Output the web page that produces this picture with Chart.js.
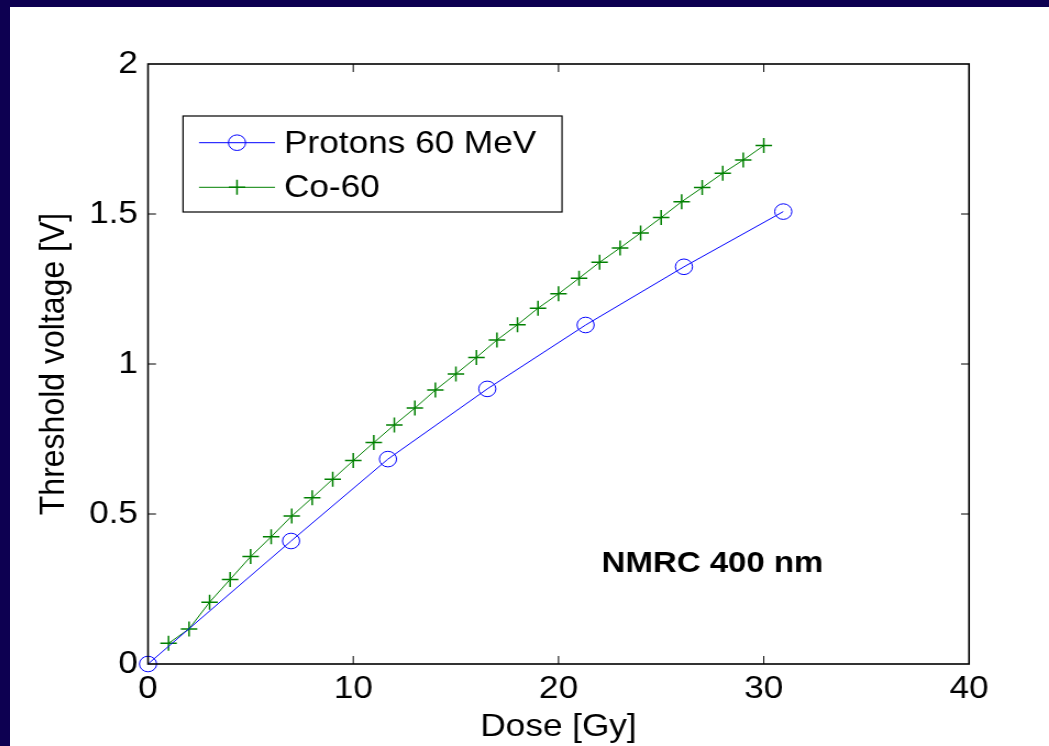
<!DOCTYPE html>
<html>
<head>
<meta charset="utf-8">
<script src="https://cdn.jsdelivr.net/npm/chart.js@4.4.1/dist/chart.umd.min.js"></script>
<style>
  html, body { margin: 0; padding: 0; width: 1049px; height: 746px; overflow: hidden; background: #0d0051; }
  #wrap { position: absolute; left: 10px; top: 7px; width: 1039px; height: 739px; background: #fff; overflow: hidden; }
  /* the original figure is slightly stretched sideways */
  #chart { position: absolute; left: 0; top: 0; transform-origin: 0 0; transform: scale(1.0995, 1); }
</style>
</head>
<body>
<div id="wrap"><canvas id="chart" width="945" height="739" style="width:945px;height:739px"></canvas></div>
<script>
// data
const protonDose = [0, 6.97, 11.69, 16.53, 21.32, 26.11, 30.95];
const protonVth = [0, 0.41, 0.683, 0.917, 1.13, 1.324, 1.508];

const cobaltDose = [1, 2, 3, 4, 5, 6, 7, 8, 9, 10, 11, 12, 13, 14, 15,
    16, 17, 18, 19, 20, 21, 22, 23, 24, 25, 26, 27, 28, 29, 30];
const cobaltVth = [0.069, 0.117, 0.206, 0.282, 0.358, 0.424, 0.493, 0.554, 0.616, 0.678,
    0.738, 0.797, 0.853, 0.913, 0.967, 1.022, 1.08, 1.131, 1.186, 1.234,
    1.286, 1.339, 1.387, 1.437, 1.488, 1.541, 1.588, 1.636, 1.68, 1.728];

const seriesLabels = ['Protons 60 MeV', 'Co-60'];
const xTicks = [0, 10, 20, 30, 40];
const yTicks = [0, 0.5, 1, 1.5, 2];
const noteText = 'NMRC 400 nm';
const notePos = [22.1, 0.333];

const SX = 1039 / 945;
const FONT = '"Liberation Sans", Arial, sans-serif';

const toPoints = (xs, ys) => xs.map((x, i) => ({ x: x, y: ys[i] }));

function drawMarker(ctx, style, x, y, r, color) {
    ctx.save();
    ctx.strokeStyle = color;
    ctx.lineWidth = style === 'cross' ? 1.5 : 1;
    ctx.beginPath();
    if (style === 'cross') {
        ctx.moveTo(x - r, y); ctx.lineTo(x + r, y);
        ctx.moveTo(x, y - r); ctx.lineTo(x, y + r);
    } else {
        ctx.arc(x, y, r, 0, Math.PI * 2);
    }
    ctx.stroke();
    ctx.restore();
}

// box, inward ticks, legend and note
const decorations = {
    id: 'decorations',
    afterDatasetsDraw(chart) {
        const { ctx, chartArea: a, scales } = chart;
        const tl = 8;
        ctx.save();
        ctx.strokeStyle = '#000';
        ctx.lineWidth = 1;
        ctx.beginPath();
        xTicks.slice(1, -1).forEach(v => {
            const px = scales.x.getPixelForValue(v);
            ctx.moveTo(px, a.bottom); ctx.lineTo(px, a.bottom - tl);
            ctx.moveTo(px, a.top); ctx.lineTo(px, a.top + tl);
        });
        yTicks.slice(1, -1).forEach(v => {
            const py = scales.y.getPixelForValue(v);
            ctx.moveTo(a.left, py); ctx.lineTo(a.left + tl / SX, py);
            ctx.moveTo(a.right, py); ctx.lineTo(a.right - tl / SX, py);
        });
        ctx.stroke();

        ctx.lineWidth = 1.6;
        ctx.strokeRect(a.left, a.top, a.right - a.left, a.bottom - a.top);

        // legend
        const bx = 173 / SX, by = 109, bw = (552 - 173) / SX, bh = 96;
        ctx.fillStyle = '#fff';
        ctx.fillRect(bx, by, bw, bh);
        ctx.lineWidth = 1.2;
        ctx.strokeRect(bx, by, bw, bh);
        const rows = [135.7, 180.3];
        const x0 = 189 / SX, x1 = 265 / SX, xm = (x0 + x1) / 2;
        chart.data.datasets.forEach((ds, i) => {
            const y = rows[i];
            ctx.strokeStyle = ds.borderColor;
            ctx.lineWidth = 1;
            ctx.beginPath();
            ctx.moveTo(x0, y); ctx.lineTo(x1, y);
            ctx.stroke();
            drawMarker(ctx, ds.pointStyle, xm, y, ds.pointRadius, ds.pointBorderColor);
            ctx.fillStyle = '#000';
            ctx.font = '32px ' + FONT;
            ctx.textAlign = 'left';
            ctx.textBaseline = 'middle';
            ctx.fillText(ds.label, 274 / SX, y + 1);
        });

        // annotation
        ctx.fillStyle = '#000';
        ctx.font = 'bold 30px ' + FONT;
        ctx.textAlign = 'left';
        ctx.textBaseline = 'middle';
        ctx.fillText(noteText, scales.x.getPixelForValue(notePos[0]), scales.y.getPixelForValue(notePos[1]));
        ctx.restore();
    }
};

new Chart(document.getElementById('chart'), {
    type: 'line',
    data: {
        datasets: [{
            label: seriesLabels[0],
            data: toPoints(protonDose, protonVth),
            borderColor: '#0000ff',
            borderWidth: 1,
            pointStyle: 'circle',
            pointRadius: 7.8,
            pointBorderColor: '#0000ff',
            pointBackgroundColor: 'rgba(0,0,0,0)',
            pointBorderWidth: 1,
            tension: 0,
            clip: false
        }, {
            label: seriesLabels[1],
            data: toPoints(cobaltDose, cobaltVth),
            borderColor: '#008000',
            borderWidth: 1,
            pointStyle: 'cross',
            pointRadius: 7.5,
            pointBorderColor: '#008000',
            pointBorderWidth: 1.5,
            tension: 0,
            clip: false
        }]
    },
    options: {
        responsive: false,
        animation: false,
        events: [],
        layout: { padding: { left: 0, top: 57, right: 945 - 959 / SX, bottom: 0 } },
        plugins: { legend: { display: false }, tooltip: { enabled: false } },
        scales: {
            x: {
                type: 'linear',
                min: 0, max: 40,
                afterBuildTicks: s => { s.ticks = xTicks.map(v => ({ value: v })); },
                afterFit: s => { s.height = 82; },
                grid: { display: false, drawTicks: false },
                border: { display: false },
                ticks: { color: '#000', padding: 6, maxRotation: 0, callback: v => String(v), font: { family: FONT, size: 32 } },
                title: { display: true, text: 'Dose [Gy]', color: '#000', padding: { top: 0, bottom: 0 }, font: { family: FONT, size: 32 } }
            },
            y: {
                type: 'linear',
                min: 0, max: 2,
                afterBuildTicks: s => { s.ticks = yTicks.map(v => ({ value: v })); },
                afterFit: s => { s.width = 138 / SX; },
                grid: { display: false, drawTicks: false },
                border: { display: false },
                ticks: { color: '#000', padding: 10 / SX, callback: v => String(v), font: { family: FONT, size: 32 } },
                title: { display: true, text: 'Threshold voltage [V]', color: '#000', padding: { top: 21, bottom: 0 }, font: { family: FONT, size: 32 } }
            }
        }
    },
    plugins: [decorations]
});
</script>
</body>
</html>
